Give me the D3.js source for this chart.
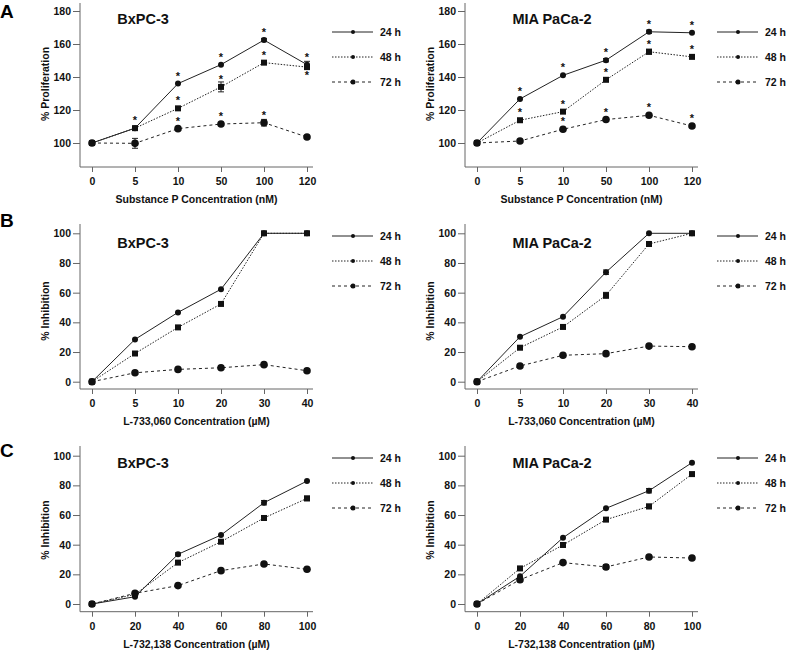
<!DOCTYPE html>
<html><head><meta charset="utf-8">
<script src="https://cdn.jsdelivr.net/npm/d3@7"></script>
<style>body{margin:0;background:#fff}svg{display:block;font-family:"Liberation Sans",Arial,sans-serif}</style>
</head><body><svg id="c" width="800" height="651"></svg>
<script>
// ---------- data ----------
const seriesNames = ["24 h", "48 h", "72 h"];
const xLabelsA = ["0", "5", "10", "50", "100", "120"];
const xLabelsB = ["0", "5", "10", "20", "30", "40"];
const xLabelsC = ["0", "20", "40", "60", "80", "100"];
const yTicksA = [100, 120, 140, 160, 180];
const yTicksBC = [0, 20, 40, 60, 80, 100];
const cellLines = ["BxPC-3", "MIA PaCa-2"];
const xTitles = ["Substance P Concentration (nM)", "L-733,060 Concentration (\u00b5M)", "L-732,138 Concentration (\u00b5M)"];
const yTitles = ["% Proliferation", "% Inhibition", "% Inhibition"];
const panelLetters = ["A", "B", "C"];

// Row A: proliferation
const aBx24 = [100, 109, 136, 147.5, 162.4, 147.5];
const aBx48 = [100, 109, 121, 134, 148.7, 146];
const aBx72 = [100, 99.8, 108.7, 111.5, 112.3, 103.6];
const aMia24 = [100, 126.7, 141, 150.2, 167.4, 166.8];
const aMia48 = [100, 113.8, 119, 138.3, 155.3, 152.2];
const aMia72 = [100, 101.2, 108.3, 114.2, 116.8, 110.3];
// Row B: L-733,060
const bBx24 = [0, 28.5, 46.7, 62.3, 100, 100];
const bBx48 = [0, 19, 36.6, 52.4, 100, 100];
const bBx72 = [0, 6, 8.3, 9.4, 11.5, 7.4];
const bMia24 = [0, 30.3, 43.8, 73.8, 100, 100];
const bMia48 = [0, 22.9, 36.9, 58.2, 92.8, 100];
const bMia72 = [0, 10.6, 17.8, 18.9, 24, 23.6];
// Row C: L-732,138
const cBx24 = [0, 4.9, 33.5, 46.5, 68.3, 82.9];
const cBx48 = [0, 6.5, 27.9, 42, 58, 71.2];
const cBx72 = [0, 7.2, 12.4, 22.5, 27, 23.4];
const cMia24 = [0, 18.7, 44.7, 64.5, 76.4, 95.3];
const cMia48 = [0, 24, 39.8, 56.9, 65.8, 87.6];
const cMia72 = [0, 16.4, 27.9, 25, 31.7, 31];

// error bars: [seriesIndex, pointIndex, sem]
const errABx = [[2, 1, 3], [1, 3, 3], [0, 5, 2], [2, 4, 2], [1, 4, 1], [0, 4, 1]];
const errAMia = [[0, 4, 1], [1, 4, 1.5], [0, 3, 1], [1, 2, 1]];
const errBBx = [];
const errBMia = [[0, 3, 1.5], [1, 3, 2]];
const errCBx = [[0, 4, 1.5], [1, 5, 1.5], [0, 2, 1]];
const errCMia = [[0, 4, 1.5], [1, 4, 1.5], [1, 5, 1], [2, 3, 1.5], [2, 1, 1.5]];
// significance stars: [seriesIndex, pointIndex, placement(+1 above, -1 below)]
const starsABx = [[0, 1, 1], [0, 2, 1], [1, 2, 1], [2, 2, 1], [0, 3, 1], [1, 3, 1], [2, 3, 1], [0, 4, 1], [1, 4, 1], [2, 4, 1], [0, 5, 1], [1, 5, -1]];
const starsAMia = [[0, 1, 1], [1, 1, 1], [0, 2, 1], [1, 2, 1], [2, 2, 1], [0, 3, 1], [1, 3, 1], [2, 3, 1], [0, 4, 1], [1, 4, 1], [2, 4, 1], [0, 5, 1], [1, 5, 1], [2, 5, 1]];

// ---------- drawing ----------
const svg = d3.select("#c");
const FONT = "'Liberation Sans', Arial, sans-serif";
const dashes = [null, "1.5,1.5", "3,3"];

const rows = [
  {xLabels: xLabelsA, ticks: yTicksA, dom: [100, 180], rng: [143, 11], axB: 167, axT: 3, letterY: 18, titleY: 24, legY: 32, ylabY: 84,
   panels: [[aBx24, aBx48, aBx72], [aMia24, aMia48, aMia72]], errs: [errABx, errAMia], stars: [starsABx, starsAMia]},
  {xLabels: xLabelsB, ticks: yTicksBC, dom: [0, 100], rng: [381.7, 233.3], axB: 389, axT: 224, letterY: 227, titleY: 248, legY: 236, ylabY: 311,
   panels: [[bBx24, bBx48, bBx72], [bMia24, bMia48, bMia72]], errs: [errBBx, errBMia], stars: [[], []]},
  {xLabels: xLabelsC, ticks: yTicksBC, dom: [0, 100], rng: [604, 455.7], axB: 611.7, axT: 446, letterY: 457, titleY: 468, legY: 458, ylabY: 530,
   panels: [[cBx24, cBx48, cBx72], [cMia24, cMia48, cMia72]], errs: [errCBx, errCMia], stars: [[], []]}
];

rows.forEach((row, ri) => {
  svg.append("text").attr("x", 0).attr("y", row.letterY).attr("font-size", 19).attr("font-weight", "bold")
    .attr("font-family", FONT).text(panelLetters[ri]);
  [0, 1].forEach(pi => {
    const off = pi * 385;
    const axX = 80 + off;
    const x = d3.scalePoint().domain(row.xLabels).range([92 + off, 307 + off]);
    const y = d3.scaleLinear().domain(row.dom).range(row.rng);
    const g = svg.append("g");
    // axes lines
    g.append("line").attr("x1", axX).attr("x2", axX).attr("y1", row.axT).attr("y2", row.axB).attr("stroke", "#666").attr("stroke-width", 1);
    g.append("line").attr("x1", axX).attr("x2", 313 + off).attr("y1", row.axB).attr("y2", row.axB).attr("stroke", "#666").attr("stroke-width", 1);
    const ya = g.append("g").attr("transform", `translate(${axX},0)`)
      .call(d3.axisLeft(y).tickValues(row.ticks).tickSize(7).tickPadding(2).tickSizeOuter(0));
    ya.select(".domain").remove();
    ya.selectAll("line").attr("stroke", "#666");
    ya.selectAll("text").attr("font-size", 10.5).attr("font-weight", "bold").attr("font-family", FONT).attr("fill", "#111");
    const xa = g.append("g").attr("transform", `translate(0,${row.axB})`)
      .call(d3.axisBottom(x).tickSize(5).tickPadding(6));
    xa.select(".domain").remove();
    xa.selectAll("line").attr("stroke", "#666");
    xa.selectAll("text").attr("font-size", 10.5).attr("font-weight", "bold").attr("font-family", FONT).attr("fill", "#111");
    // titles
    g.append("text").attr("x", 196.5 + off).attr("y", row.axB + 36).attr("text-anchor", "middle")
      .attr("font-size", 10.5).attr("font-weight", "bold").attr("font-family", FONT).attr("fill", "#111").text(xTitles[ri]);
    g.append("text").attr("transform", `translate(${49 + off},${row.ylabY}) rotate(-90)`).attr("text-anchor", "middle")
      .attr("font-size", 10.5).attr("font-weight", "bold").attr("font-family", FONT).attr("fill", "#111").text(yTitles[ri]);
    g.append("text").attr("x", (pi ? 552 : 143)).attr("y", row.titleY).attr("text-anchor", "middle")
      .attr("font-size", 14.5).attr("font-weight", "bold").attr("font-family", FONT).attr("fill", "#111").text(cellLines[pi]);
    // series
    const series = row.panels[pi];
    [2, 1, 0].forEach(si => {
      const vals = series[si];
      const line = d3.line().x((d, i) => x(row.xLabels[i])).y(d => y(d));
      g.append("path").attr("d", line(vals)).attr("fill", "none").attr("stroke", "#222")
        .attr("stroke-width", 1).attr("stroke-dasharray", dashes[si]);
    });
    // error bars
    row.errs[pi].forEach(([si, idx, e]) => {
      const cx = x(row.xLabels[idx]), v = series[si][idx];
      const y1 = y(v - e), y2 = y(v + e);
      g.append("line").attr("x1", cx).attr("x2", cx).attr("y1", y1).attr("y2", y2).attr("stroke", "#222");
      [y1, y2].forEach(yy => g.append("line").attr("x1", cx - 3).attr("x2", cx + 3).attr("y1", yy).attr("y2", yy).attr("stroke", "#222"));
    });
    [2, 1, 0].forEach(si => {
      series[si].forEach((v, i) => {
        const cx = x(row.xLabels[i]), cy = y(v);
        if (si === 1) {
          g.append("rect").attr("x", cx - 3).attr("y", cy - 3).attr("width", 6).attr("height", 6).attr("fill", "#111");
        } else {
          g.append("circle").attr("cx", cx).attr("cy", cy).attr("r", si === 0 ? 3 : 3.8).attr("fill", "#111");
        }
      });
    });
    // stars
    row.stars[pi].forEach(([si, idx, pos]) => {
      const cx = x(row.xLabels[idx]), cy = y(series[si][idx]);
      g.append("text").attr("x", cx).attr("y", pos > 0 ? cy - 4 : cy + 12).attr("text-anchor", "middle")
        .attr("font-size", 11).attr("font-weight", "bold").attr("font-family", FONT).attr("fill", "#111").text("*");
    });
    // legend
    seriesNames.forEach((name, si) => {
      const ly = row.legY + si * 25;
      g.append("line").attr("x1", 332 + off).attr("x2", 373 + off).attr("y1", ly).attr("y2", ly)
        .attr("stroke", "#222").attr("stroke-width", 1).attr("stroke-dasharray", dashes[si]);
      g.append("circle").attr("cx", 353 + off).attr("cy", ly).attr("r", si === 2 ? 2.5 : 2).attr("fill", "#111");
      g.append("text").attr("x", 380 + off).attr("y", ly + 4).attr("font-size", 10.5).attr("font-weight", "bold")
        .attr("font-family", FONT).attr("fill", "#111").text(name);
    });
  });
});
</script></body></html>
